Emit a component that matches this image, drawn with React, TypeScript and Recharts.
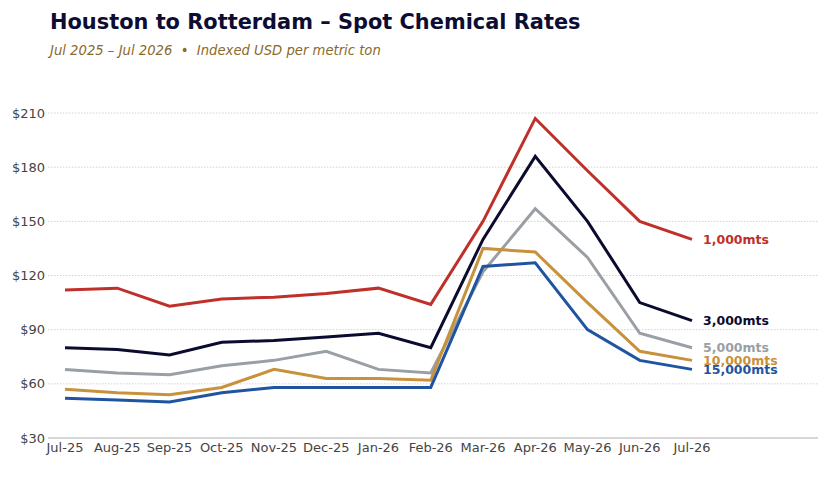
import { CartesianGrid, Line, LineChart, XAxis, YAxis } from "recharts";

const months = ["Jul-25", "Aug-25", "Sep-25", "Oct-25", "Nov-25", "Dec-25", "Jan-26", "Feb-26", "Mar-26", "Apr-26", "May-26", "Jun-26", "Jul-26"];
const mts1000 = [112, 113, 103, 107, 108, 110, 113, 104, 150, 207, 178, 150, 140];
const mts3000 = [80, 79, 76, 83, 84, 86, 88, 80, 140, 186, 150, 105, 95];
const mts5000 = [68, 66, 65, 70, 73, 78, 68, 66, 122, 157, 130, 88, 80];
const mts10000 = [57, 55, 54, 58, 68, 63, 63, 62, 135, 133, 105, 78, 73];
const mts15000 = [52, 51, 50, 55, 58, 58, 58, 58, 125, 127, 90, 73, 68];
const yTicks = [30, 60, 90, 120, 150, 180, 210];

const SERIES = [
  { key: "m1000", name: "1,000mts", color: "#C0302A", values: mts1000 },
  { key: "m3000", name: "3,000mts", color: "#0B0B30", values: mts3000 },
  { key: "m5000", name: "5,000mts", color: "#9A9FA6", values: mts5000 },
  { key: "m10000", name: "10,000mts", color: "#C8913B", values: mts10000 },
  { key: "m15000", name: "15,000mts", color: "#1F55A0", values: mts15000 },
];

const data = months.map((m, i) => {
  const row: Record<string, string | number> = { month: m };
  SERIES.forEach((s) => (row[s.key] = s.values[i]));
  return row;
});

const FONT = "'DejaVu Sans', Verdana, sans-serif";
const last = months.length - 1;

function endLabel(name: string, color: string) {
  return (p: any) => {
    if (p.index !== last) return <g />;
    return (
      <text x={p.x + 11} y={p.y} dy="0.35em" fill={color} fontFamily={FONT} fontSize={12.5} fontWeight="bold">
        {name}
      </text>
    );
  };
}

export default function App() {
  return (
    <div style={{ position: "absolute", left: 0, top: 0, width: 826, height: 477, background: "#fff", fontFamily: FONT }}>
      <div style={{ position: "absolute", left: 50, top: 10, fontSize: 20.9, fontWeight: "bold", color: "#0D0D33", whiteSpace: "nowrap" }}>
        Houston to Rotterdam – Spot Chemical Rates
      </div>
      <div style={{ position: "absolute", left: 50, top: 43, fontSize: 13.2, fontStyle: "italic", color: "#8A6A2A", whiteSpace: "pre" }}>
        {"Jul 2025 – Jul 2026  •  Indexed USD per metric ton"}
      </div>
      <LineChart width={826} height={477} data={data} margin={{ top: 113, right: 8, bottom: 9, left: 0 }}>
        <CartesianGrid vertical={false} stroke="#d2d2d2" strokeDasharray="1.5 1.5" />
        <XAxis
          dataKey="month"
          padding={{ left: 17, right: 126 }}
          tickLine={false}
          tickSize={0}
          tickMargin={5}
          height={30}
          axisLine={{ stroke: "#bbbbbb", strokeWidth: 1.2 }}
          tick={{ fill: "#444", fontSize: 13, fontFamily: FONT }}
          interval={0}
        />
        <YAxis
          domain={[30, 210]}
          ticks={yTicks}
          width={48}
          axisLine={false}
          tickLine={false}
          tickSize={0}
          tickMargin={3}
          tickFormatter={(v) => `$${v}`}
          tick={{ fill: "#444", fontSize: 13, fontFamily: FONT }}
        />
        {SERIES.map((s) => (
          <Line
            key={s.key}
            dataKey={s.key}
            name={s.name}
            stroke={s.color}
            strokeWidth={3}
            dot={false}
            activeDot={false}
            isAnimationActive={false}
            label={endLabel(s.name, s.color)}
          />
        ))}
      </LineChart>
    </div>
  );
}
